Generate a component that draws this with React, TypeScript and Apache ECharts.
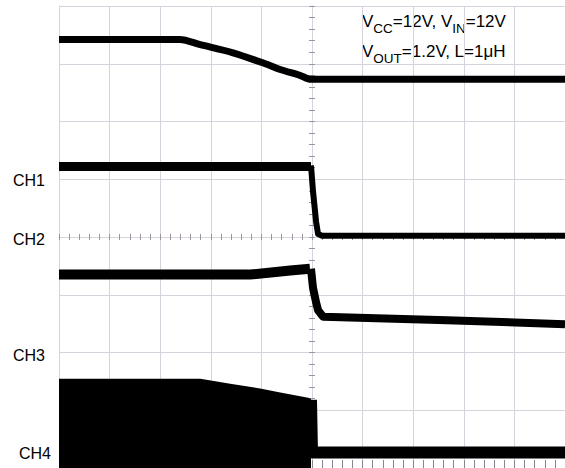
import React, { useEffect, useRef } from "react";
import * as echarts from "echarts";

// Trace data in screen divisions (x: 0..10, y: 0..8 from bottom)
const topX = [0, 2.39, 2.79, 3.44, 4.11, 4.37, 4.76, 4.98, 5.04, 10];
const topY = [7.42, 7.42, 7.33, 7.19, 6.99, 6.9, 6.8, 6.73, 6.73, 6.73];

const ch1HiX = [0, 4.98];
const ch1HiY = [5.22, 5.22];
const ch1LoX = [4.98, 5.02, 5.08, 5.12, 5.2, 10];
const ch1LoY = [5.24, 4.79, 4.27, 4.05, 4.02, 4.02];

const ch3HiX = [0, 3.78, 4.57, 4.96];
const ch3HiY = [3.35, 3.35, 3.42, 3.45];
const ch3LoX = [4.98, 5.02, 5.08, 5.12, 5.22, 7.67, 10];
const ch3LoY = [3.45, 3.12, 2.87, 2.73, 2.62, 2.56, 2.49];

const ch4HiX = [0, 2.79, 3.38, 3.97, 4.37, 4.92, 4.98];
const ch4HiY = [1.53, 1.53, 1.44, 1.36, 1.29, 1.2, 1.18];
const ch4LoX = [4.98, 5.0, 10];
const ch4LoY = [1.18, 0.27, 0.27];

const channelLabels = ["CH1", "CH2", "CH3", "CH4"];
// annotation pieces: "m" = normal text, "s" = subscript
const note1Text = ["V", "CC", "=12V, V", "IN", "=12V"];
const note1Kind = ["m", "s", "m", "s", "m"];
const note2Text = ["V", "OUT", "=1.2V, L=1\u03bcH"];
const note2Kind = ["m", "s", "m"];

const zip = (xs: number[], ys: number[]) => xs.map((x, i) => [x, ys[i]]);

const GRID = "#d8d2dc";
const FONT = "Liberation Sans, Arial, sans-serif";
const MAIN_SIZE = 17;
const SUB_SIZE = 13.5;

let measureCtx: CanvasRenderingContext2D | null = null;
const measure = (t: string, size: number) => {
  if (!measureCtx) measureCtx = document.createElement("canvas").getContext("2d");
  if (!measureCtx) return t.length * size * 0.6;
  measureCtx.font = `${size}px "Liberation Sans", Arial, sans-serif`;
  return measureCtx.measureText(t).width;
};

const notePieces = (texts: string[], kinds: string[], y: number) => {
  let x = 362;
  return texts.map((t, i) => {
    const sub = kinds[i] === "s";
    const size = sub ? SUB_SIZE : MAIN_SIZE;
    const el = {
      type: "text",
      x,
      y: y + (sub ? 8.6 : 0),
      style: { text: t, fontSize: size, fontFamily: FONT, fill: "#000", verticalAlign: "top", align: "left" },
    };
    x += measure(t, size);
    return el;
  });
};

export default function App() {
  const ref = useRef<HTMLDivElement>(null);
  useEffect(() => {
    if (!ref.current) return;
    const chart = echarts.init(ref.current, undefined, { renderer: "svg" });
    const line = (data: number[][], width: number, extra: any = {}) => ({
      type: "line",
      data,
      showSymbol: false,
      symbol: "none",
      silent: true,
      lineStyle: { color: "#000", width, cap: "butt", join: "round" },
      ...extra,
    });
    const centerTick = { show: true, length: 3, lineStyle: { color: "#9a94a0" } };
    const centerMinor = { show: true, splitNumber: 5, length: 3, lineStyle: { color: "#9a94a0" } };
    const chText = (text: string, left: number, top: number) => ({
      type: "text", left, top,
      style: { text, fontSize: 16, fontFamily: FONT, fill: "#000" },
    });
    chart.setOption({
      animation: false,
      backgroundColor: "#fff",
      grid: { left: 59, top: 6, width: 506, height: 466 },
      xAxis: [
        {
          type: "value", min: 0, max: 10, interval: 1, position: "bottom",
          axisLine: { show: true, onZero: false, lineStyle: { color: GRID } },
          axisTick: { show: true, inside: true, length: 8, lineStyle: { color: "#8a8490" } },
          minorTick: { show: true, splitNumber: 5, length: 8, lineStyle: { color: "#8a8490" } },
          axisLabel: { show: false },
          splitLine: { show: true, lineStyle: { color: GRID, width: 1 } },
        },
        {
          type: "value", min: -5, max: 5, interval: 1, position: "bottom",
          axisLine: { show: true, onZero: true, onZeroAxisIndex: 1, lineStyle: { color: GRID } },
          axisTick: { ...centerTick, inside: false },
          minorTick: centerMinor,
          axisLabel: { show: false },
          splitLine: { show: false },
        },
        {
          type: "value", min: -5, max: 5, interval: 1, position: "bottom",
          axisLine: { show: true, onZero: true, onZeroAxisIndex: 1, lineStyle: { color: GRID } },
          axisTick: { ...centerTick, inside: true },
          minorTick: centerMinor,
          axisLabel: { show: false },
          splitLine: { show: false },
        },
      ],
      yAxis: [
        {
          type: "value", min: 0, max: 8, interval: 1, position: "left",
          axisLine: { show: true, onZero: false, lineStyle: { color: GRID } },
          axisTick: { show: false },
          axisLabel: { show: false },
          splitLine: { show: true, lineStyle: { color: GRID, width: 1 } },
        },
        {
          type: "value", min: -4, max: 4, interval: 1, position: "left",
          axisLine: { show: true, onZero: true, onZeroAxisIndex: 1, lineStyle: { color: GRID } },
          axisTick: { ...centerTick, inside: false },
          minorTick: centerMinor,
          axisLabel: { show: false },
          splitLine: { show: false },
        },
        {
          type: "value", min: -4, max: 4, interval: 1, position: "left",
          axisLine: { show: true, onZero: true, onZeroAxisIndex: 1, lineStyle: { color: GRID } },
          axisTick: { ...centerTick, inside: true },
          minorTick: centerMinor,
          axisLabel: { show: false },
          splitLine: { show: false },
        },
      ],
      series: [
        line(zip(ch4HiX, ch4HiY), 2, { areaStyle: { color: "#000", opacity: 1, origin: "start" } }),
        line(zip(ch4LoX, ch4LoY), 12),
        line(zip(topX, topY), 7, { smooth: 0.3 }),
        line(zip(ch1HiX, ch1HiY), 9),
        line(zip(ch1LoX, ch1LoY), 6),
        line(zip(ch3HiX, ch3HiY), 10),
        line(zip(ch3LoX, ch3LoY), 8),
      ],
      graphic: [
        chText(channelLabels[0], 13, 172),
        chText(channelLabels[1], 13, 231),
        chText(channelLabels[2], 13, 347),
        chText(channelLabels[3], 19, 445),
        ...notePieces(note1Text, note1Kind, 13),
        ...notePieces(note2Text, note2Kind, 43),
      ],
    });
    return () => chart.dispose();
  }, []);
  return (
    <div
      ref={ref}
      style={{ position: "absolute", left: 0, top: 0, width: 565, height: 468, background: "#fff" }}
    />
  );
}
